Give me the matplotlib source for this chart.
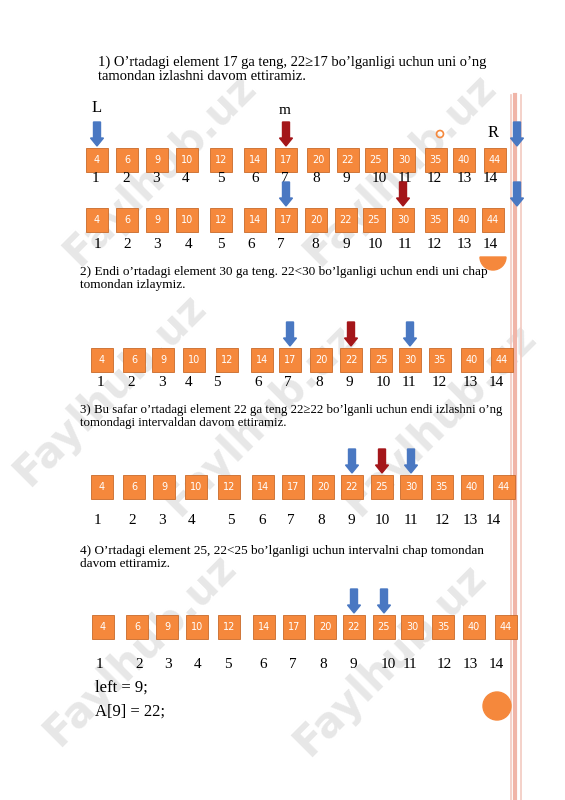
import matplotlib.pyplot as plt
from matplotlib.patches import Rectangle, FancyArrow, Circle, Wedge

values = [4, 6, 9, 10, 12, 14, 17, 20, 22, 25, 30, 35, 40, 44]
indices = list(range(1, 15))

# box centres and index-label positions per row (pixels)
box_x = [
    [97, 127, 157, 187, 221, 255, 286, 318, 348, 376, 404, 436, 464, 495],
    [97, 127, 157, 187, 221, 255, 286, 316, 346, 374, 403, 436, 464, 493],
    [102, 134, 163, 194, 227, 262, 290, 321, 351, 381, 410, 440, 472, 502],
    [102, 134, 164, 196, 229, 263, 293, 323, 352, 382, 411, 442, 472, 504],
    [103, 137, 167, 197, 229, 264, 294, 325, 354, 384, 412, 443, 474, 506],
]
label_x = [
    [95, 126, 156, 186, 221, 255, 285, 316, 346, 379, 405, 434, 464, 490],
    [97, 127, 157, 189, 221, 251, 281, 315, 346, 375, 405, 434, 464, 490],
    [100, 131, 162, 189, 217, 258, 288, 319, 349, 383, 409, 439, 470, 496],
    [97, 132, 162, 192, 231, 262, 291, 321, 351, 382, 411, 442, 470, 493],
    [99, 139, 168, 198, 228, 263, 293, 323, 353, 388, 410, 444, 470, 496],
]
box_y = [160, 220, 360, 487, 627]
label_y = [179, 244, 383, 521, 665]
# arrows per row: (index or x, colour)
arrows = [
    [(1, "blue"), (7, "red"), ("x517", "blue")],
    [(7, "blue"), (11, "red"), ("x517", "blue")],
    [(7, "blue"), (9, "red"), (11, "blue")],
    [(9, "blue"), (10, "red"), (11, "blue")],
    [(9, "blue"), (10, "blue")],
]
captions = [
    (98, 56, "1) O’rtadagi element 17 ga teng, 22≥17 bo’lganligi uchun uni o’ng\ntamondan izlashni davom ettiramiz.", 10.5),
    (80, 266, "2) Endi o’rtadagi element 30 ga teng. 22<30 bo’lganligi uchun endi uni chap\ntomondan izlaymiz.", 9.5),
    (80, 404, "3) Bu safar o’rtadagi element 22 ga teng 22≥22 bo’lganli uchun endi izlashni o’ng\ntomondagi intervaldan davom ettiramiz.", 9.3),
    (80, 545, "4) O’rtadagi element 25, 22<25 bo’lganligi uchun intervalni chap tomondan\ndavom ettiramiz.", 9.5),
]
ORANGE = "#F5883C"
COLORS = {"blue": "#4A78C2", "red": "#A4161A"}

fig = plt.figure(figsize=(5.65, 8), dpi=100)
ax = fig.add_axes([0, 0, 1, 1])
ax.set_xlim(0, 565)
ax.set_ylim(800, 0)
ax.axis("off")
serif = "Liberation Serif"

# watermarks
for wx, wy in [(160, 170), (400, 170), (110, 390), (440, 420), (260, 420),
               (140, 650), (390, 660)]:
    ax.text(wx, wy, "Faylhub.uz", rotation=45, fontsize=30, color="#d8d8d8",
            ha="center", va="center", fontweight="bold", alpha=0.6, zorder=0)

# right decoration
for lx, lc, lw in [(511, "#f2c9c0", 1.2), (515, "#f0b5a8", 3), (521, "#f2c9c0", 1.2)]:
    ax.plot([lx, lx], [95, 800], color=lc, lw=lw, zorder=1)
ax.add_patch(Circle((497, 706), 14, color=ORANGE, zorder=2))
ax.add_patch(Circle((440, 134), 3.5, fill=False, ec=ORANGE, lw=1.2, zorder=2))
ax.add_patch(Wedge((493, 257), 13, 0, 180, color=ORANGE, zorder=2))

for tx, ty, txt, fs in captions:
    ax.text(tx, ty, txt, fontsize=fs, family=serif, va="top", linespacing=1.1)

for r in range(5):
    for i, v in enumerate(values):
        cx = box_x[r][i]
        ax.add_patch(Rectangle((cx - 11, box_y[r] - 12), 22, 24, fc=ORANGE,
                               ec="#c86a2a", lw=0.6, zorder=3))
        ax.text(cx, box_y[r], str(v), color="white", fontsize=7, ha="center",
                va="center", zorder=4)
        ax.text(label_x[r][i], label_y[r], str(indices[i]), fontsize=11,
                family=serif, ha="center", va="center", zorder=4)
    for pos, col in arrows[r]:
        ax_x = int(pos[1:]) if isinstance(pos, str) else box_x[r][pos - 1]
        top = box_y[r] - 38
        ax.add_patch(FancyArrow(ax_x, top, 0, 24, width=7, head_width=13,
                                head_length=8, length_includes_head=True,
                                color=COLORS[col], zorder=5))

ax.text(97, 108, "L", fontsize=12, family=serif, ha="center", va="center")
ax.text(285, 110, "m", fontsize=11, family=serif, ha="center", va="center")
ax.text(493, 133, "R", fontsize=12, family=serif, ha="center", va="center")
ax.text(95, 688, "left = 9;", fontsize=12, family=serif, va="center")
ax.text(95, 712, "A[9] = 22;", fontsize=12, family=serif, va="center")

fig.savefig("out.png", dpi=100)
